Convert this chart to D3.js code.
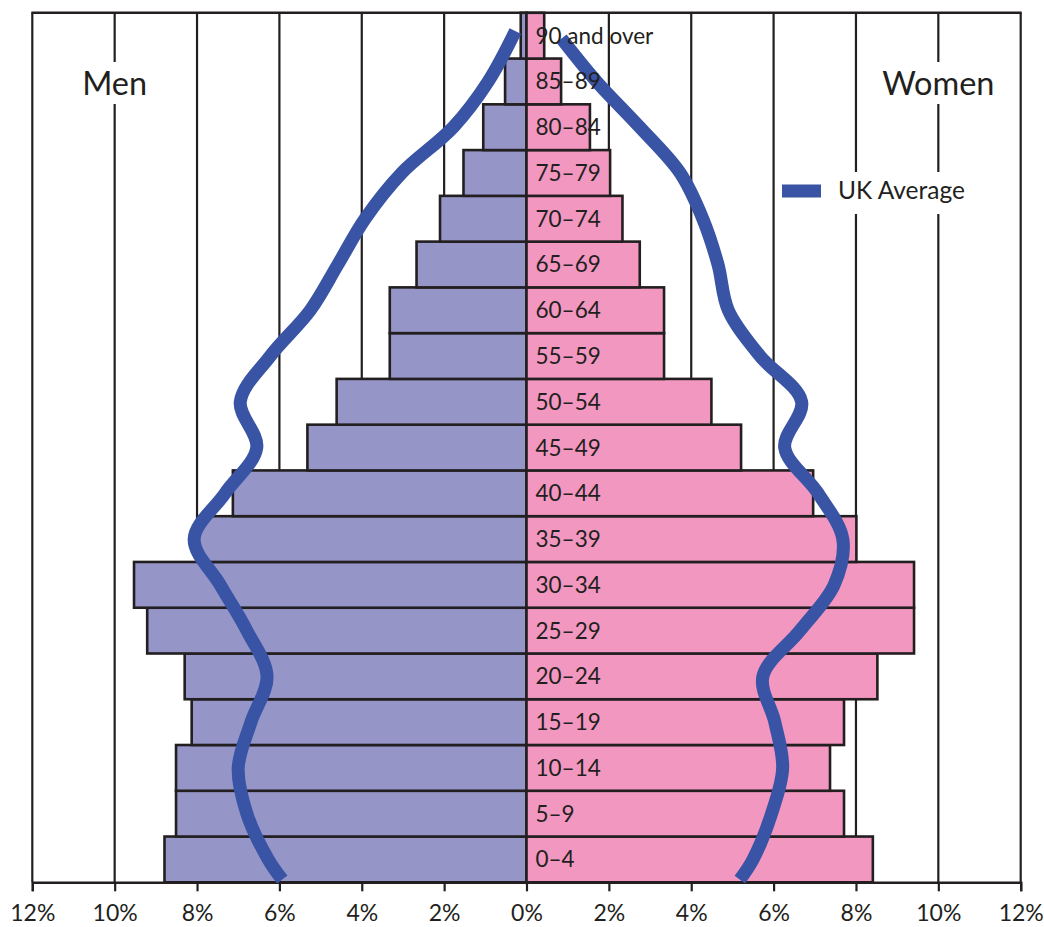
<!DOCTYPE html>
<html>
<head>
<meta charset="utf-8">
<script src="https://cdn.jsdelivr.net/npm/d3@7/dist/d3.min.js"></script>
<style>
  html, body { margin: 0; padding: 0; background: #fff; }
  svg text { font-family: Lato, "Open Sans", sans-serif; fill: #231f20; }
</style>
</head>
<body>
<svg id="chart" width="1044" height="927"></svg>
<script>
// ---- data ----
const ageGroups = ["0–4","5–9","10–14","15–19","20–24","25–29","30–34","35–39","40–44","45–49",
                   "50–54","55–59","60–64","65–69","70–74","75–79","80–84","85–89","90 and over"];
const menPct   = [8.79, 8.51, 8.51, 8.13, 8.30, 9.21, 9.53, 7.98, 7.13, 5.32, 4.61, 3.32, 3.32, 2.67, 2.10, 1.53, 1.05, 0.52, 0.14];
const womenPct = [8.41, 7.71, 7.37, 7.71, 8.52, 9.41, 9.41, 8.01, 6.96, 5.21, 4.49, 3.34, 3.34, 2.75, 2.33, 2.03, 1.54, 0.84, 0.43];

// UK average curve (age in years, percent)
const ukMenAge   = [0.3, 2.5, 7.5, 12.5, 17.5, 22.5, 27.5, 32.5, 37.5, 42.5, 47.5, 52.5, 57.5, 62.5, 67.5, 72.5, 77.5, 82.5, 87.5, 93.0];
const ukMen      = [5.93, 6.27, 6.79, 7.00, 6.69, 6.30, 6.79, 7.44, 8.07, 7.32, 6.55, 6.95, 6.22, 5.25, 4.58, 3.92, 3.03, 1.78, 0.93, 0.27];
const ukWomenAge = [0.3, 2.5, 7.5, 12.5, 17.5, 22.5, 27.5, 32.5, 37.5, 42.5, 47.5, 52.5, 57.5, 62.5, 67.5, 72.5, 77.5, 82.5, 87.5, 92.2];
const ukWomen    = [5.18, 5.50, 5.95, 6.22, 6.03, 5.74, 6.64, 7.47, 7.68, 7.08, 6.27, 6.68, 5.67, 4.90, 4.65, 4.28, 3.73, 2.75, 1.70, 0.85];

const tickValues = [-12, -10, -8, -6, -4, -2, 0, 2, 4, 6, 8, 10, 12];
const sideLabels = [{text: "Men", value: -10}, {text: "Women", value: 10}];
const legendLabel = "UK Average";

// ---- layout ----
const ink = "#231f20";
const menColor = "#9595c8";
const womenColor = "#f297c0";
const lineColor = "#3953a5";

const svg = d3.select("#chart");
const x = d3.scaleLinear().domain([-12, 12]).range([32.3, 1020.7]);
const yAge = d3.scaleLinear().domain([0, 95]).range([882.3, 12.8]);
const yBand = d3.scaleBand().domain(ageGroups.slice().reverse()).range([12.8, 882.3]).padding(0);

// gridlines
svg.append("g").selectAll("line").data(tickValues).join("line")
  .attr("x1", d => x(d)).attr("x2", d => x(d))
  .attr("y1", yAge(95)).attr("y2", yAge(0))
  .attr("stroke", ink).attr("stroke-width", 2.2);

// top border
svg.append("line").attr("x1", x(-12) - 1).attr("x2", x(12) + 1)
  .attr("y1", yAge(95)).attr("y2", yAge(95))
  .attr("stroke", ink).attr("stroke-width", 2.4);

// white boxes behind labels
svg.append("g").selectAll("rect").data(sideLabels).join("rect")
  .attr("x", d => x(d.value) - 45).attr("width", 90)
  .attr("y", 62).attr("height", 42).attr("fill", "#fff");
svg.append("rect").attr("x", 778).attr("y", 172).attr("width", 196).attr("height", 42).attr("fill", "#fff");

// bars
const bars = svg.append("g");
bars.selectAll("rect.men").data(ageGroups).join("rect").attr("class", "men")
  .attr("x", (d, i) => x(-menPct[i])).attr("width", (d, i) => x(0) - x(-menPct[i]))
  .attr("y", d => yBand(d)).attr("height", yBand.bandwidth())
  .attr("fill", menColor).attr("stroke", ink).attr("stroke-width", 2.6);
bars.selectAll("rect.women").data(ageGroups).join("rect").attr("class", "women")
  .attr("x", x(0)).attr("width", (d, i) => x(womenPct[i]) - x(0))
  .attr("y", d => yBand(d)).attr("height", yBand.bandwidth())
  .attr("fill", womenColor).attr("stroke", ink).attr("stroke-width", 2.6);

// x axis
const axis = d3.axisBottom(x).tickValues(tickValues).tickSize(9).tickPadding(13)
  .tickFormat(d => Math.abs(d) + "%");
const ax = svg.append("g").attr("transform", `translate(0,${yAge(0)})`).call(axis);
ax.select(".domain").attr("stroke", ink).attr("stroke-width", 2.4);
ax.selectAll(".tick line").attr("stroke", ink).attr("stroke-width", 2.2);
ax.selectAll(".tick text").attr("font-size", 23).attr("fill", ink)
  .style("font-family", "Lato, sans-serif");

// UK average curves
const line = d3.line().curve(d3.curveCatmullRom.alpha(0.5));
svg.append("path")
  .attr("d", line(ukMenAge.map((a, i) => [x(-ukMen[i]), yAge(a)])))
  .attr("fill", "none").attr("stroke", lineColor).attr("stroke-width", 13);
svg.append("path")
  .attr("d", line(ukWomenAge.map((a, i) => [x(ukWomen[i]), yAge(a)])))
  .attr("fill", "none").attr("stroke", lineColor).attr("stroke-width", 13);

// age labels
svg.append("g").selectAll("text").data(ageGroups).join("text")
  .attr("x", x(0) + 9)
  .attr("y", d => yBand(d) + yBand.bandwidth() / 2 + 8)
  .attr("font-size", 22.5)
  .text(d => d);

// side labels
svg.append("g").selectAll("text").data(sideLabels).join("text")
  .attr("x", d => x(d.value)).attr("y", 95)
  .attr("text-anchor", "middle").attr("font-size", 32.5)
  .text(d => d.text);

// legend
svg.append("rect").attr("x", 782).attr("y", 184.5).attr("width", 39).attr("height", 13).attr("fill", lineColor);
svg.append("text").attr("x", 838).attr("y", 199).attr("font-size", 24.5).text(legendLabel);
</script>
</body>
</html>
